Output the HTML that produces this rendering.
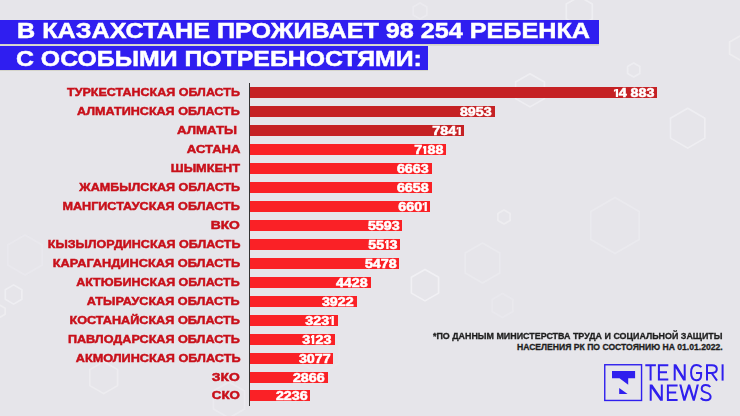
<!DOCTYPE html>
<html><head><meta charset="utf-8">
<style>
html,body{margin:0;padding:0;}
body{width:740px;height:416px;overflow:hidden;position:relative;background:#e6e5ea;font-family:"Liberation Sans",sans-serif;}
.tb{position:absolute;left:0;background:#2f1ef0;color:#fff;font-weight:bold;font-size:22.4px;white-space:nowrap;-webkit-text-stroke:0.5px #fff;}
.tb span{position:absolute;left:17px;top:0;line-height:24px;display:inline-block;transform-origin:0 50%;}
.gap{position:absolute;left:0;top:43.6px;height:2.6px;background:linear-gradient(#cfcfc2,#d6d6cc 60%,#dfdee0);}
.lab{position:absolute;right:500px;height:15px;line-height:15px;color:#c8101a;font-weight:bold;font-size:11.8px;white-space:nowrap;-webkit-text-stroke:0.5px #c8101a;transform:scaleX(1.065);transform-origin:100% 50%;}
.bar{position:absolute;left:250px;height:11px;background:#fa2126;}
.bar.dk{background:#c52124;}
.bar b{position:absolute;right:3.1px;top:-1px;line-height:15px;color:#fff;font-weight:bold;font-size:12px;-webkit-text-stroke:0.55px #fff;transform:scaleX(1.19);transform-origin:100% 50%;white-space:nowrap;}
.bar b i{display:inline-block;position:relative;width:4.4px;height:8.4px;vertical-align:baseline;overflow:hidden;color:transparent;-webkit-text-stroke:0 transparent;font-style:normal;line-height:8.4px;}
.bar b i:before{content:'';position:absolute;right:0.6px;top:0;width:2.25px;height:8.4px;background:#fff;}
.bar b i:after{content:'';position:absolute;right:2.35px;top:0;width:1.9px;height:3.4px;background:#fff;clip-path:polygon(100% 0,100% 65%,0 100%,0 40%);}
.axis{position:absolute;left:249px;top:83px;width:1px;height:323px;background:#333;}
.note{position:absolute;right:17.3px;color:#1e1e1e;font-weight:bold;font-size:8.6px;line-height:10px;-webkit-text-stroke:0.3px #1e1e1e;white-space:nowrap;transform-origin:100% 50%;}
.logo{position:absolute;left:0;top:0;}
.bg{position:absolute;left:0;top:0;}
</style></head><body>
<svg class="bg" width="740" height="416"><defs><filter id="bl" x="-20%" y="-20%" width="140%" height="140%"><feGaussianBlur stdDeviation="0.5"/></filter></defs><g fill="none" stroke="#fbfbfd" stroke-width="1.6" stroke-linejoin="round" filter="url(#bl)"><polygon points="579.3,-3.5 592.3,4.0 592.3,19.0 579.3,26.5 566.3,19.0 566.3,4.0" stroke-opacity="0.42"/><polygon points="420.0,3.0 426.9,7.0 426.9,15.0 420.0,19.0 413.1,15.0 413.1,7.0" stroke-opacity="0.24"/><polygon points="530.0,73.7 544.4,82.0 544.4,98.6 530.0,106.9 515.6,98.6 515.6,82.0" stroke-opacity="0.42"/><polygon points="633.7,63.0 639.8,66.5 639.8,73.5 633.7,77.0 627.6,73.5 627.6,66.5" stroke-opacity="0.39"/><polygon points="687.7,108.3 704.9,118.2 704.9,138.1 687.7,148.1 670.5,138.1 670.5,118.2" stroke-opacity="0.42"/><polygon points="740.0,36.0 750.4,42.0 750.4,54.0 740.0,60.0 729.6,54.0 729.6,42.0" stroke-opacity="0.35"/><polygon points="425.0,269.5 438.6,277.3 438.6,293.1 425.0,300.9 411.4,293.1 411.4,277.3" stroke-opacity="0.52"/><polygon points="504.0,210.0 510.1,213.5 510.1,220.5 504.0,224.0 497.9,220.5 497.9,213.5" stroke-opacity="0.35"/><polygon points="482.5,243.0 499.8,253.0 499.8,273.0 482.5,283.0 465.2,273.0 465.2,253.0" stroke-opacity="0.21"/><polygon points="615.0,197.5 639.2,211.5 639.2,239.5 615.0,253.5 590.8,239.5 590.8,211.5" stroke-opacity="0.21"/><polygon points="13.6,284.9 21.9,289.7 21.9,299.3 13.6,304.1 5.3,299.3 5.3,289.7" stroke-opacity="0.42"/><polygon points="0.0,305.3 5.2,308.3 5.2,314.3 0.0,317.3 -5.2,314.3 -5.2,308.3" stroke-opacity="0.35"/><polygon points="103.7,361.6 117.6,369.6 117.6,385.6 103.7,393.6 89.8,385.6 89.8,369.6" stroke-opacity="0.32"/><polygon points="25.0,235.0 42.3,245.0 42.3,265.0 25.0,275.0 7.7,265.0 7.7,245.0" stroke-opacity="0.17"/><polygon points="502.5,293.5 512.9,299.5 512.9,311.5 502.5,317.5 492.1,311.5 492.1,299.5" stroke-opacity="0.17"/><polygon points="229.0,382.0 244.6,391.0 244.6,409.0 229.0,418.0 213.4,409.0 213.4,391.0" stroke-opacity="0.24"/><polygon points="320.0,330.0 339.1,341.0 339.1,363.0 320.0,374.0 300.9,363.0 300.9,341.0" stroke-opacity="0.13"/></g></svg>
<div class="tb" style="top:19.7px;width:598.5px;height:23.9px"><span style="transform:scaleX(1.124);top:-0.6px">В КАЗАХСТАНЕ ПРОЖИВАЕТ 98 254 РЕБЕНКА</span></div>
<div class="gap" style="width:598.5px"></div>
<div class="tb" style="top:46.2px;width:428px;height:24px;box-shadow:0 0.8px 0 rgba(170,170,120,0.35)"><span style="transform:scaleX(1.1095);top:1px;left:16px">С ОСОБЫМИ ПОТРЕБНОСТЯМИ:</span></div>
<div class="axis"></div>
<div class="lab" style="top:85.1px;transform:scaleX(1.061)">ТУРКЕСТАНСКАЯ ОБЛАСТЬ</div>
<div class="bar dk" style="top:87.1px;width:407.3px"><b><i>1</i>4 883</b></div>
<div class="lab" style="top:104.06px;transform:scaleX(1.065)">АЛМАТИНСКАЯ ОБЛАСТЬ</div>
<div class="bar dk" style="top:106.06px;width:244.63px"><b>8953</b></div>
<div class="lab" style="top:123.02px;transform:scaleX(1.126);padding-right:3px">АЛМАТЫ</div>
<div class="bar dk" style="top:125.02px;width:214.12px"><b>784<i>1</i></b></div>
<div class="lab" style="top:141.98px;transform:scaleX(1.107)">АСТАНА</div>
<div class="bar" style="top:143.98px;width:196.21px"><b>7<i>1</i>88</b></div>
<div class="lab" style="top:160.94px;transform:scaleX(1.081)">ШЫМКЕНТ</div>
<div class="bar" style="top:162.94px;width:181.81px"><b>6663</b></div>
<div class="lab" style="top:179.9px;transform:scaleX(1.064)">ЖАМБЫЛСКАЯ ОБЛАСТЬ</div>
<div class="bar" style="top:181.9px;width:181.67px"><b>6658</b></div>
<div class="lab" style="top:198.86px;transform:scaleX(1.07)">МАНГИСТАУСКАЯ ОБЛАСТЬ</div>
<div class="bar" style="top:200.86px;width:180.11px"><b>660<i>1</i></b></div>
<div class="lab" style="top:217.82px;transform:scaleX(1.174)">ВКО</div>
<div class="bar" style="top:219.82px;width:152.46px"><b>5593</b></div>
<div class="lab" style="top:236.78px;transform:scaleX(1.062)">КЫЗЫЛОРДИНСКАЯ ОБЛАСТЬ</div>
<div class="bar" style="top:238.78px;width:150.26px"><b>55<i>1</i>3</b></div>
<div class="lab" style="top:255.74px;transform:scaleX(1.082)">КАРАГАНДИНСКАЯ ОБЛАСТЬ</div>
<div class="bar" style="top:257.74px;width:149.3px"><b>5478</b></div>
<div class="lab" style="top:274.7px;transform:scaleX(1.057)">АКТЮБИНСКАЯ ОБЛАСТЬ</div>
<div class="bar" style="top:276.7px;width:120.5px"><b>4428</b></div>
<div class="lab" style="top:293.66px;transform:scaleX(1.071)">АТЫРАУСКАЯ ОБЛАСТЬ</div>
<div class="bar" style="top:295.66px;width:106.62px"><b>3922</b></div>
<div class="lab" style="top:312.62px;transform:scaleX(1.073)">КОСТАНАЙСКАЯ ОБЛАСТЬ</div>
<div class="bar" style="top:314.62px;width:87.66px"><b>323<i>1</i></b></div>
<div class="lab" style="top:331.58px;transform:scaleX(1.069)">ПАВЛОДАРСКАЯ ОБЛАСТЬ</div>
<div class="bar" style="top:333.58px;width:84.7px"><b>3<i>1</i>23</b></div>
<div class="lab" style="top:350.54px;transform:scaleX(1.073)">АКМОЛИНСКАЯ ОБЛАСТЬ</div>
<div class="bar" style="top:352.54px;width:83.44px"><b>3077</b></div>
<div class="lab" style="top:369.5px;transform:scaleX(1.174)">ЗКО</div>
<div class="bar" style="top:371.5px;width:77.65px"><b>2866</b></div>
<div class="lab" style="top:388.46px;transform:scaleX(1.126)">СКО</div>
<div class="bar" style="top:390.46px;width:60.37px"><b>2236</b></div>
<div class="note" style="top:331px;transform:scaleX(1.036)">*ПО ДАННЫМ МИНИСТЕРСТВА ТРУДА И СОЦИАЛЬНОЙ ЗАЩИТЫ</div>
<div class="note" style="top:341.5px;transform:scaleX(1.0)">НАСЕЛЕНИЯ РК ПО СОСТОЯНИЮ НА 01.01.2022.</div>
<svg class="logo" width="740" height="416" viewBox="0 0 740 416">
<rect x="604.75" y="364.75" width="36.8" height="35.7" fill="none" stroke="#2f1fee" stroke-width="1.4"/>
<polygon points="612,371 635.1,371 635.1,378.2 628.2,378.2 628.2,384.8 619.5,378.2 612,378.2" fill="#2f1fee"/>
<polygon points="619.2,387.9 619.2,394.1 627.6,394.1" fill="#2f1fee"/>
<g fill="none" stroke="#2f1fee" stroke-width="2" stroke-linecap="butt" stroke-linejoin="miter">
<path d="M645.3 365.2H655.9M650.6 365.2V380.6"/>
<path d="M668.3 365.2H658.9V379.6H668.3M658.9 372.3H667"/>

<path d="M701.3 367.3C700.3 365.6 698.6 364.9 696.2 364.9C692.6 364.9 691.1 367.2 691.1 372.6C691.1 378 692.6 380.2 696.2 380.2C699.6 380.2 701.1 378.2 701.1 375.2V372.9H696"/>
<path d="M707 380.6V365.2H712C715.3 365.2 716.8 366.8 716.8 369.1C716.8 371.4 715.3 373 712 373H707M711.6 373L717 380.6"/>
<path d="M722.6 364.3V380.6"/>

<path d="M677.6 385.5H667.9V399.9H677.6M667.9 392.6H676.2"/>

<path d="M710.3 387C709.3 385.7 707.8 385.1 705.8 385.1C703.1 385.1 701.7 386.4 701.7 388.8C701.7 391.2 703.5 392 706.1 392.6C708.9 393.3 710.6 394.2 710.6 396.8C710.6 399.3 708.9 400.2 706 400.2C703.8 400.2 702.1 399.5 700.8 398"/>
</g>
<polygon fill="#2f1fee" points="673.7,364.3 676.2,364.3 683.7,376.6 683.7,364.3 685.7,364.3 685.7,380.6 683.2,380.6 675.7,368.3 675.7,380.6 673.7,380.6"/>
<polygon fill="#2f1fee" points="649.7,384.5 652.3,384.5 660.8,396.9 660.8,384.5 662.8,384.5 662.8,400.8 660.2,400.8 651.7,388.4 651.7,400.8 649.7,400.8"/>
<polygon fill="#2f1fee" points="679.2,384.5 681.4,384.5 684.4,396.6 688.1,384.4 690.1,384.4 693.8,396.6 696.7,384.5 698.9,384.5 694.8,400.8 692.8,400.8 689.1,388.7 685.4,400.8 683.3,400.8"/>
</svg>
</body></html>
